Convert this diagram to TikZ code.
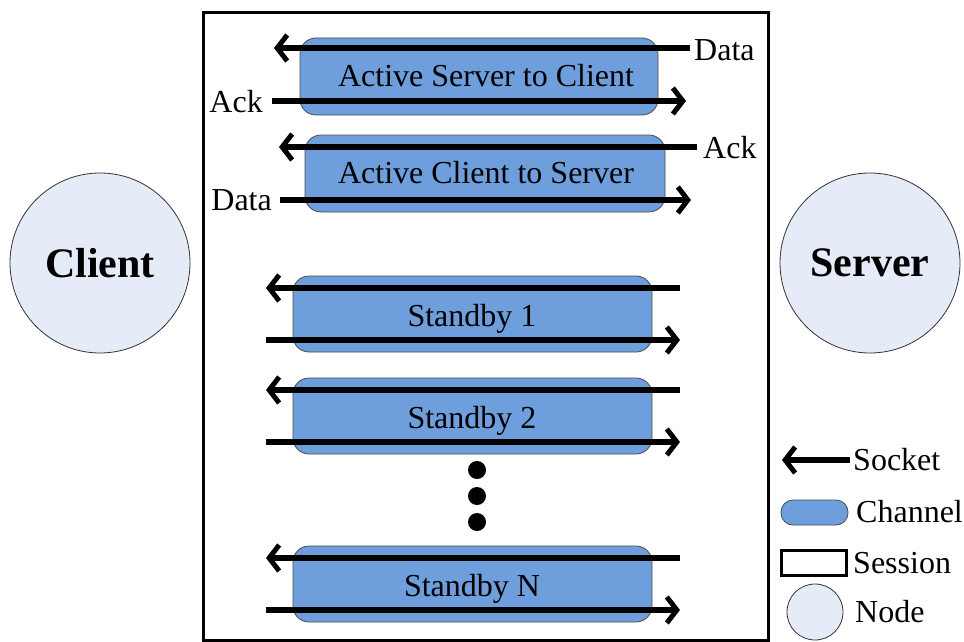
\documentclass[tikz,border=0pt]{standalone}
\usepackage{fontspec}
\setmainfont{Liberation Serif}
\usetikzlibrary{arrows.meta}
\definecolor{chfill}{RGB}{110,158,219}
\definecolor{ndfill}{RGB}{230,236,247}
\begin{document}
\begin{tikzpicture}[x=1pt,y=-1pt,
  txt/.style={font=\fontsize{32}{34}\selectfont, inner sep=0pt},
  chan/.style={draw=black!70, line width=0.8pt, fill=chfill, rounded corners=16pt},
  sock/.style={line width=6.5pt, -{Straight Barb[length=10pt,width=26pt,line width=5pt]}},
  nd/.style={circle, draw=black!80, line width=0.8pt, fill=ndfill, inner sep=0pt},
  sess/.style={draw=black, line width=3pt}]
\useasboundingbox (0,0) rectangle (964,642);
% session
\draw[sess] (203,13) rectangle (768,640);
% nodes
\node[nd, minimum size=180pt, font=\fontsize{42}{44}\selectfont\bfseries] (client) at (100,263) {Client};
\node[nd, minimum size=180pt, font=\fontsize{42}{44}\selectfont\bfseries] (server) at (870,263) {Server};
% channel 1
\draw[chan] (300,38) rectangle (658,115);
\node[txt] (c1) at (486,76) {Active Server to Client};
\coordinate (c1tr) at (690,48); \coordinate (c1tl) at (274,48);
\coordinate (c1bl) at (272,101); \coordinate (c1br) at (686,101);
\draw[sock] (c1tr) -- (c1tl);
\draw[sock] (c1bl) -- (c1br);
\node[txt, anchor=west] (d1) at (694,50) {Data};
\node[txt, anchor=east] (a1) at (263,102) {Ack};
% channel 2
\draw[chan] (305,135) rectangle (665,212);
\node[txt] (c2) at (486,173) {Active Client to Server};
\coordinate (c2tr) at (697,147); \coordinate (c2tl) at (279,147);
\coordinate (c2bl) at (280,200); \coordinate (c2br) at (691,200);
\draw[sock] (c2tr) -- (c2tl);
\draw[sock] (c2bl) -- (c2br);
\node[txt, anchor=west] (a2) at (703,148) {Ack};
\node[txt, anchor=east] (d2) at (272,200) {Data};
% standby channels
\foreach \name/\yt/\lab in {s1/276/Standby 1, s2/378/Standby 2, sn/546/Standby N}{
  \draw[chan] (293,\yt) rectangle (652,\yt+76);
  \node[txt] (\name) at (472,\yt+43) {\lab};
  \coordinate (\name tr) at (680,\yt+12); \coordinate (\name tl) at (266,\yt+12);
  \coordinate (\name bl) at (266,\yt+64); \coordinate (\name br) at (680,\yt+64);
  \draw[sock] (\name tr) -- (\name tl);
  \draw[sock] (\name bl) -- (\name br);
}
% dots
\foreach \yy [count=\i] in {470,496,522}{
  \fill (477,\yy) circle (9pt) coordinate (dot\i);
}
% legend
\coordinate (lsr) at (850,460); \coordinate (lsl) at (782,460);
\draw[sock] (lsr) -- (lsl);
\node[txt, anchor=west] (lsock) at (853,460) {Socket};
\draw[chan, rounded corners=12pt] (781,500) rectangle (848,525);
\node[txt, anchor=west] (lchan) at (856,512) {Channel};
\draw[sess] (781,550) rectangle (846,575);
\node[txt, anchor=west] (lsess) at (853,563) {Session};
\node[nd, minimum size=56pt] (lnode) at (815,612) {};
\node[txt, anchor=west] (lnd) at (855,612) {Node};
\end{tikzpicture}
\end{document}
